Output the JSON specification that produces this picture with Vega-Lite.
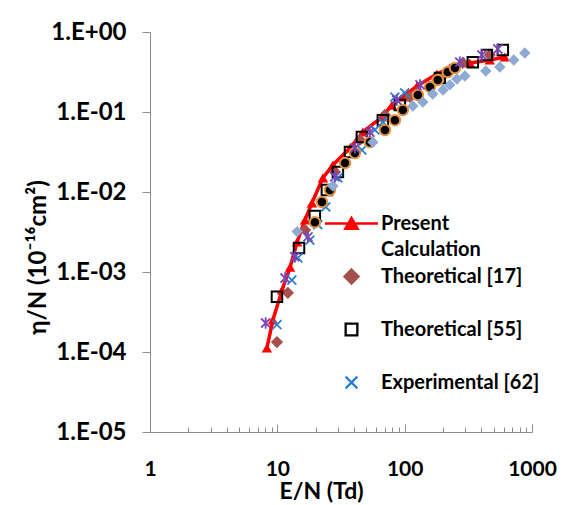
{
  "$schema": "https://vega.github.io/schema/vega-lite/v6.json",
  "width": 382,
  "height": 400,
  "autosize": {"type": "none"},
  "padding": {"left": 150, "top": 32, "right": 37, "bottom": 73},
  "background": "white",
  "config": {"view": {"stroke": null}, "font": "Lato"},
  "datasets": {
    "pts": [
      {"s": "P", "en": 8.28, "eta": 0.000112},
      {"s": "P", "en": 9.23, "eta": 0.000251},
      {"s": "P", "en": 10.9, "eta": 0.000596},
      {"s": "P", "en": 12.6, "eta": 0.00115},
      {"s": "P", "en": 14.3, "eta": 0.00237},
      {"s": "P", "en": 16.5, "eta": 0.00447},
      {"s": "P", "en": 18.7, "eta": 0.0073},
      {"s": "P", "en": 22.8, "eta": 0.015},
      {"s": "P", "en": 27.3, "eta": 0.0218},
      {"s": "P", "en": 37.2, "eta": 0.0355},
      {"s": "P", "en": 47, "eta": 0.0562},
      {"s": "P", "en": 66.2, "eta": 0.0866},
      {"s": "P", "en": 79.4, "eta": 0.122},
      {"s": "P", "en": 96.8, "eta": 0.154},
      {"s": "P", "en": 125, "eta": 0.211},
      {"s": "P", "en": 179, "eta": 0.299},
      {"s": "P", "en": 226, "eta": 0.355},
      {"s": "P", "en": 325, "eta": 0.41},
      {"s": "P", "en": 466, "eta": 0.447},
      {"s": "P", "en": 612, "eta": 0.487},
      {"s": "T17", "en": 9.93, "eta": 0.000133},
      {"s": "T17", "en": 12.1, "eta": 0.00055},
      {"s": "T17", "en": 16.5, "eta": 0.00335},
      {"s": "T17", "en": 28.3, "eta": 0.0178},
      {"s": "T17", "en": 44.5, "eta": 0.0447},
      {"s": "T17", "en": 70, "eta": 0.092},
      {"s": "T17", "en": 110, "eta": 0.154},
      {"s": "T17", "en": 189, "eta": 0.266},
      {"s": "T17", "en": 286, "eta": 0.41},
      {"s": "T17", "en": 466, "eta": 0.516},
      {"s": "T55", "en": 9.93, "eta": 0.00049},
      {"s": "T55", "en": 14.8, "eta": 0.002},
      {"s": "T55", "en": 19.7, "eta": 0.005},
      {"s": "T55", "en": 24.5, "eta": 0.0106},
      {"s": "T55", "en": 29.9, "eta": 0.0178},
      {"s": "T55", "en": 37.2, "eta": 0.0316},
      {"s": "T55", "en": 46.1, "eta": 0.0487},
      {"s": "T55", "en": 67.4, "eta": 0.079},
      {"s": "T55", "en": 91.6, "eta": 0.122},
      {"s": "T55", "en": 189, "eta": 0.266},
      {"s": "T55", "en": 343, "eta": 0.42},
      {"s": "T55", "en": 442, "eta": 0.516},
      {"s": "T55", "en": 590, "eta": 0.596},
      {"s": "E62", "en": 9.93, "eta": 0.00022},
      {"s": "E62", "en": 13, "eta": 0.00079},
      {"s": "E62", "en": 14.5, "eta": 0.0015},
      {"s": "E62", "en": 18, "eta": 0.0025},
      {"s": "E62", "en": 20.8, "eta": 0.0039},
      {"s": "E62", "en": 24, "eta": 0.0065},
      {"s": "E62", "en": 29.9, "eta": 0.015},
      {"s": "E62", "en": 46.1, "eta": 0.0335},
      {"s": "E62", "en": 58.3, "eta": 0.0596},
      {"s": "E62", "en": 67.4, "eta": 0.075},
      {"s": "E62", "en": 83.8, "eta": 0.154},
      {"s": "E62", "en": 100, "eta": 0.173},
      {"s": "C", "en": 19.7, "eta": 0.0042},
      {"s": "C", "en": 22.4, "eta": 0.0075},
      {"s": "C", "en": 25.9, "eta": 0.0106},
      {"s": "C", "en": 34, "eta": 0.023},
      {"s": "C", "en": 40.7, "eta": 0.0307},
      {"s": "C", "en": 53.3, "eta": 0.042},
      {"s": "C", "en": 70, "eta": 0.0596},
      {"s": "C", "en": 83.8, "eta": 0.079},
      {"s": "C", "en": 96.8, "eta": 0.106},
      {"s": "C", "en": 127, "eta": 0.163},
      {"s": "C", "en": 158, "eta": 0.205},
      {"s": "C", "en": 182, "eta": 0.251},
      {"s": "C", "en": 218, "eta": 0.316},
      {"s": "C", "en": 248, "eta": 0.355},
      {"s": "L", "en": 14.3, "eta": 0.0032},
      {"s": "L", "en": 27.3, "eta": 0.0119},
      {"s": "L", "en": 56.3, "eta": 0.042},
      {"s": "L", "en": 116, "eta": 0.119},
      {"s": "L", "en": 139, "eta": 0.133},
      {"s": "L", "en": 166, "eta": 0.168},
      {"s": "L", "en": 200, "eta": 0.188},
      {"s": "L", "en": 226, "eta": 0.218},
      {"s": "L", "en": 257, "eta": 0.259},
      {"s": "L", "en": 297, "eta": 0.282},
      {"s": "L", "en": 434, "eta": 0.325},
      {"s": "L", "en": 559, "eta": 0.365},
      {"s": "L", "en": 719, "eta": 0.447},
      {"s": "L", "en": 878, "eta": 0.546},
      {"s": "S", "en": 8.1, "eta": 0.00023},
      {"s": "S", "en": 11.5, "eta": 0.00084},
      {"s": "S", "en": 13.7, "eta": 0.00155},
      {"s": "S", "en": 17.4, "eta": 0.00275},
      {"s": "S", "en": 28.3, "eta": 0.0155},
      {"s": "S", "en": 40.7, "eta": 0.0355},
      {"s": "S", "en": 53.3, "eta": 0.056},
      {"s": "S", "en": 86.8, "eta": 0.141},
      {"s": "S", "en": 132, "eta": 0.218},
      {"s": "S", "en": 271, "eta": 0.42},
      {"s": "S", "en": 404, "eta": 0.516},
      {"s": "S", "en": 539, "eta": 0.613}
    ],
    "leg": [
      {"series": "Present Calculation"},
      {"series": "Theoretical [17]"},
      {"series": "Theoretical [55]"},
      {"series": "Experimental [62]"}
    ]
  },
  "data": {"name": "pts"},
  "resolve": {"axis": {"x": "independent"}},
  "layer": [
    {
      "transform": [{"filter": "datum.s == 'P'"}],
      "mark": {"type": "line", "color": "#FF0000", "strokeWidth": 3.5},
      "encoding": {
        "x": {
          "field": "en", "type": "quantitative",
          "scale": {"type": "log", "domain": [1, 1000], "nice": false},
          "axis": {
            "title": "E/N (Td)",
            "values": [1,2,3,4,5,6,7,8,9,10,20,30,40,50,60,70,80,90,100,200,300,400,500,600,700,800,900,1000],
            "format": "d",
            "labelExpr": "indexof([1,10,100,1000], datum.value) >= 0 ? datum.label : ''",
            "tickSize": {"condition": {"test": "indexof([1,10,100,1000], datum.value) >= 0", "value": -8}, "value": -5},
            "labelPadding": 34,
            "labelOverlap": false,
            "labelFlush": false,
            "labelFont": "Lato", "labelFontSize": 21, "labelFontWeight": "bold", "labelColor": "#000000",
            "titleFont": "Lato", "titleFontSize": 23, "titleFontWeight": "bold", "titleColor": "#000000",
            "titlePadding": -2,
            "titleX": 171,
            "domainColor": "#8C8C8C", "tickColor": "#8C8C8C", "grid": false
          }
        },
        "y": {
          "field": "eta", "type": "quantitative",
          "scale": {"type": "log", "domain": [0.00001, 1], "nice": false},
          "axis": {
            "title": "η/N (10⁻¹⁶cm²)",
            "values": [0.00001, 0.0001, 0.001, 0.01, 0.1, 1],
            "labelExpr": "datum.value >= 0.5 ? '1.E+00' : '1.E-0' + round(-log(datum.value)/LN10)",
            "tickSize": 8,
            "labelPadding": 16,
            "labelFont": "Lato", "labelFontSize": 24, "labelFontWeight": "bold", "labelColor": "#000000",
            "titleFont": "Lato", "titleFontSize": 24, "titleFontWeight": "bold", "titleColor": "#000000",
            "titleX": -100,
            "titleY": 225,
            "titleBaseline": "bottom",
            "domainColor": "#8C8C8C", "tickColor": "#8C8C8C", "grid": false
          }
        }
      }
    },
    {
      "transform": [{"filter": "datum.s == 'P'"}],
      "mark": {"type": "point", "shape": "triangle-up", "filled": true, "color": "#FF0000", "size": 110, "opacity": 1},
      "encoding": {
        "x": {"field": "en", "type": "quantitative", "axis": null},
        "y": {"field": "eta", "type": "quantitative"}
      }
    },
    {
      "transform": [{"filter": "datum.s == 'T17'"}],
      "mark": {"type": "point", "shape": "diamond", "filled": true, "color": "#A5504C", "size": 150, "opacity": 1},
      "encoding": {
        "x": {"field": "en", "type": "quantitative", "axis": null},
        "y": {"field": "eta", "type": "quantitative"}
      }
    },
    {
      "transform": [{"filter": "datum.s == 'T55'"}],
      "mark": {"type": "point", "shape": "square", "filled": false, "color": "#000000", "strokeWidth": 2, "size": 110, "opacity": 1},
      "encoding": {
        "x": {"field": "en", "type": "quantitative", "axis": null},
        "y": {"field": "eta", "type": "quantitative"}
      }
    },
    {
      "transform": [{"filter": "datum.s == 'E62'"}],
      "mark": {"type": "point", "shape": "M-1,-1L1,1M-1,1L1,-1", "filled": false, "color": "#2A7FD0", "strokeWidth": 1.8, "size": 80, "opacity": 1},
      "encoding": {
        "x": {"field": "en", "type": "quantitative", "axis": null},
        "y": {"field": "eta", "type": "quantitative"}
      }
    },
    {
      "transform": [{"filter": "datum.s == 'C'"}],
      "mark": {"type": "point", "shape": "circle", "fill": "#000000", "stroke": "#E3923F", "strokeWidth": 2, "size": 110, "opacity": 1, "fillOpacity": 1},
      "encoding": {
        "x": {"field": "en", "type": "quantitative", "axis": null},
        "y": {"field": "eta", "type": "quantitative"}
      }
    },
    {
      "transform": [{"filter": "datum.s == 'L'"}],
      "mark": {"type": "point", "shape": "diamond", "filled": true, "color": "#8EA9D4", "size": 130, "opacity": 1},
      "encoding": {
        "x": {"field": "en", "type": "quantitative", "axis": null},
        "y": {"field": "eta", "type": "quantitative"}
      }
    },
    {
      "transform": [{"filter": "datum.s == 'S'"}],
      "mark": {"type": "point", "shape": "M0,-1V1M-0.8,-0.8L0.8,0.8M-0.8,0.8L0.8,-0.8", "filled": false, "color": "#7A45B5", "strokeWidth": 1.8, "size": 130, "opacity": 1},
      "encoding": {
        "x": {"field": "en", "type": "quantitative", "axis": null},
        "y": {"field": "eta", "type": "quantitative"}
      }
    },
    {
      "data": {"name": "leg"},
      "mark": {"type": "point", "opacity": 0, "strokeWidth": 2},
      "encoding": {
        "shape": {
          "field": "series", "type": "nominal",
          "scale": {
            "domain": ["Present Calculation", "Theoretical [17]", "Theoretical [55]", "Experimental [62]"],
            "range": ["M-1.77,0H1.77M-0.42,0.35L0,-0.38L0.42,0.35Z", "M0,-0.47L0.47,0L0,0.47L-0.47,0Z", "M-0.39,-0.39H0.39V0.39H-0.39Z", "M-0.39,-0.39L0.39,0.39M-0.39,0.39L0.39,-0.39"]
          },
          "legend": {
            "title": null, "orient": "none", "legendX": 185, "legendY": 175, "padding": 0,
            "symbolSize": 900, "symbolStrokeWidth": 2.3, "symbolOpacity": 1,
            "labelFont": "Lato", "labelFontSize": 20, "labelFontWeight": "bold", "labelColor": "#000000",
            "labelOffset": 13, "labelLimit": 400, "rowPadding": 0,
            "labelExpr": "datum.label == 'Present Calculation' ? ['Present', 'Calculation'] : [datum.label, '']",
            "encode": {"labels": {"update": {"lineHeight": {"value": 26}}}}
          }
        },
        "stroke": {
          "field": "series", "type": "nominal",
          "scale": {
            "domain": ["Present Calculation", "Theoretical [17]", "Theoretical [55]", "Experimental [62]"],
            "range": ["#FF0000", "#A5504C", "#000000", "#2A7FD0"]
          },
          "legend": {
            "title": null, "orient": "none", "legendX": 185, "legendY": 175, "padding": 0,
            "symbolSize": 900, "symbolStrokeWidth": 2.3, "symbolOpacity": 1,
            "labelFont": "Lato", "labelFontSize": 20, "labelFontWeight": "bold", "labelColor": "#000000",
            "labelOffset": 13, "labelLimit": 400, "rowPadding": 0,
            "labelExpr": "datum.label == 'Present Calculation' ? ['Present', 'Calculation'] : [datum.label, '']",
            "encode": {"labels": {"update": {"lineHeight": {"value": 26}}}}
          }
        },
        "fill": {
          "field": "series", "type": "nominal",
          "scale": {
            "domain": ["Present Calculation", "Theoretical [17]", "Theoretical [55]", "Experimental [62]"],
            "range": ["#FF0000", "#A5504C", "transparent", "transparent"]
          },
          "legend": {
            "title": null, "orient": "none", "legendX": 185, "legendY": 175, "padding": 0,
            "symbolSize": 900, "symbolStrokeWidth": 2.3, "symbolOpacity": 1,
            "labelFont": "Lato", "labelFontSize": 20, "labelFontWeight": "bold", "labelColor": "#000000",
            "labelOffset": 13, "labelLimit": 400, "rowPadding": 0,
            "labelExpr": "datum.label == 'Present Calculation' ? ['Present', 'Calculation'] : [datum.label, '']",
            "encode": {"labels": {"update": {"lineHeight": {"value": 26}}}}
          }
        }
      }
    }
  ]
}
